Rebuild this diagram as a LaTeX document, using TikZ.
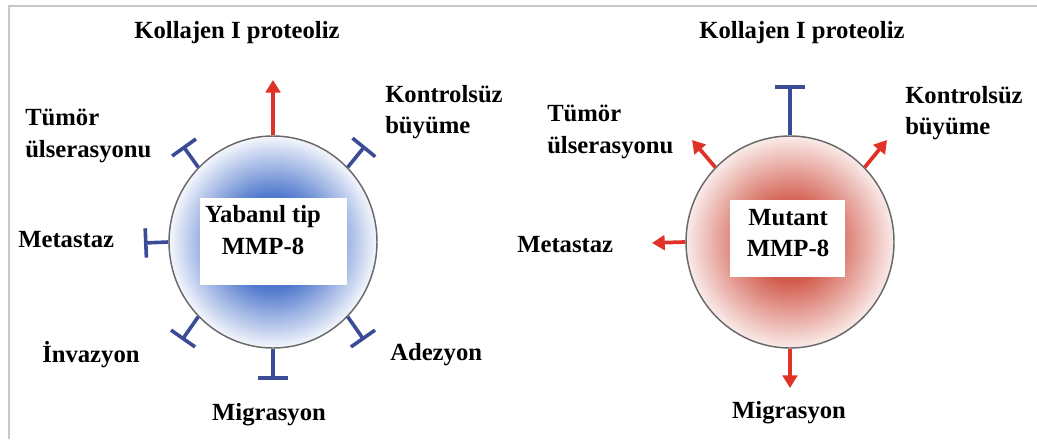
\documentclass[tikz,border=0pt]{standalone}
\usepackage{fontspec}
\setmainfont{Liberation Serif}
\usetikzlibrary{arrows.meta,shapes.geometric}
\definecolor{inhib}{RGB}{60,75,150}
\definecolor{act}{RGB}{225,50,40}
\definecolor{wtblue}{RGB}{80,120,205}
\definecolor{mutred}{RGB}{210,90,75}
\definecolor{framegray}{RGB}{200,200,200}
\definecolor{rimgray}{RGB}{105,105,105}
\pgfdeclareradialshading{wtshade}{\pgfpoint{0bp}{0bp}}{color(0bp)=(wtblue); color(11bp)=(wtblue); color(25bp)=(wtblue!6!white); color(50bp)=(wtblue!6!white)}
\pgfdeclareradialshading{mutshade}{\pgfpoint{0bp}{0bp}}{color(0bp)=(mutred); color(9bp)=(mutred); color(25bp)=(mutred!12!white); color(50bp)=(mutred!12!white)}
\begin{document}
\begin{tikzpicture}[x=0.75pt,y=-0.75pt,
  lbl/.style={font=\fontsize{18.5}{23.5}\selectfont\bfseries, inner sep=0pt, align=left},
  clbl/.style={lbl, align=center},
  cell/.style={ellipse, draw=rimgray, line width=1.1pt, minimum width=156pt, minimum height=159pt, inner sep=0pt},
  box/.style={fill=white, inner sep=0pt},
  inh/.style={draw=inhib, line width=2.7pt, -{Bar[width=22pt,line width=2.7pt]}},
  actv/.style={draw=act, line width=2.8pt, -{Triangle[length=9.5pt,width=11pt]}}]
\path[use as bounding box, fill=white] (0,0) rectangle (1037,439);
\draw[framegray, line width=1.5pt] (9,439) -- (9,6) -- (1037,6);

% ---------- left panel: wild type ----------
\node[cell, shading=wtshade] (L) at (273,242) {};
\node[box, minimum width=110.25pt, minimum height=65.25pt] (Lbox) at (273.5,241.5) {};
\node[clbl] (Ltxt) at (263,230) {Yabanıl tip\\MMP-8};

\node[clbl] (Lkol) at (237,33) {Kollajen I proteoliz};
\node[lbl, anchor=west] (Lkon) at (385,112) {Kontrolsüz\\büyüme};
\node[lbl, anchor=west] (Ltum) at (25,136) {Tümör\\ülserasyonu};
\node[lbl, anchor=west] (Lmet) at (18,240) {Metastaz};
\node[lbl, anchor=west] (Linv) at (42,355) {İnvazyon};
\node[clbl] (Lmig) at (269,415) {Migrasyon};
\node[lbl, anchor=west] (Lade) at (390,355) {Adezyon};

\coordinate (LkolE) at (273,80);
\coordinate (LkonE) at (365,146);
\coordinate (LtumE) at (183,146);
\coordinate (LmetE) at (144,243);
\coordinate (LinvE) at (182,340);
\coordinate (LadeE) at (364,340);
\coordinate (LmigE) at (273,380);

\draw[actv] (L.north) -- (LkolE);
\draw[inh] (L.45) -- (LkonE);
\draw[inh] (L.135) -- (LtumE);
\draw[inh] (L.west) -- (LmetE);
\draw[inh] (L.225) -- (LinvE);
\draw[inh] (L.315) -- (LadeE);
\draw[inh] (L.south) -- (LmigE);

% ---------- right panel: mutant ----------
\node[cell, shading=mutshade] (R) at (790,242) {};
\node[box, minimum width=86.25pt, minimum height=57.75pt] (Rbox) at (787.5,238.5) {};
\node[clbl] (Rtxt) at (788,233) {Mutant\\MMP-8};

\node[clbl] (Rkol) at (802,33) {Kollajen I proteoliz};
\node[lbl, anchor=west] (Rkon) at (905,113) {Kontrolsüz\\büyüme};
\node[lbl, anchor=west] (Rtum) at (547,132) {Tümör\\ülserasyonu};
\node[lbl, anchor=west] (Rmet) at (517,245) {Metastaz};
\node[clbl] (Rmig) at (789,413) {Migrasyon};

\coordinate (RkolE) at (790,85);
\coordinate (RkonE) at (887,140);
\coordinate (RtumE) at (692,140);
\coordinate (RmetE) at (652,243);
\coordinate (RmigE) at (790,388);

\draw[inh] (R.north) -- (RkolE);
\draw[actv] (R.45) -- (RkonE);
\draw[actv] (R.135) -- (RtumE);
\draw[actv] (R.west) -- (RmetE);
\draw[actv] (R.south) -- (RmigE);
\end{tikzpicture}
\end{document}
